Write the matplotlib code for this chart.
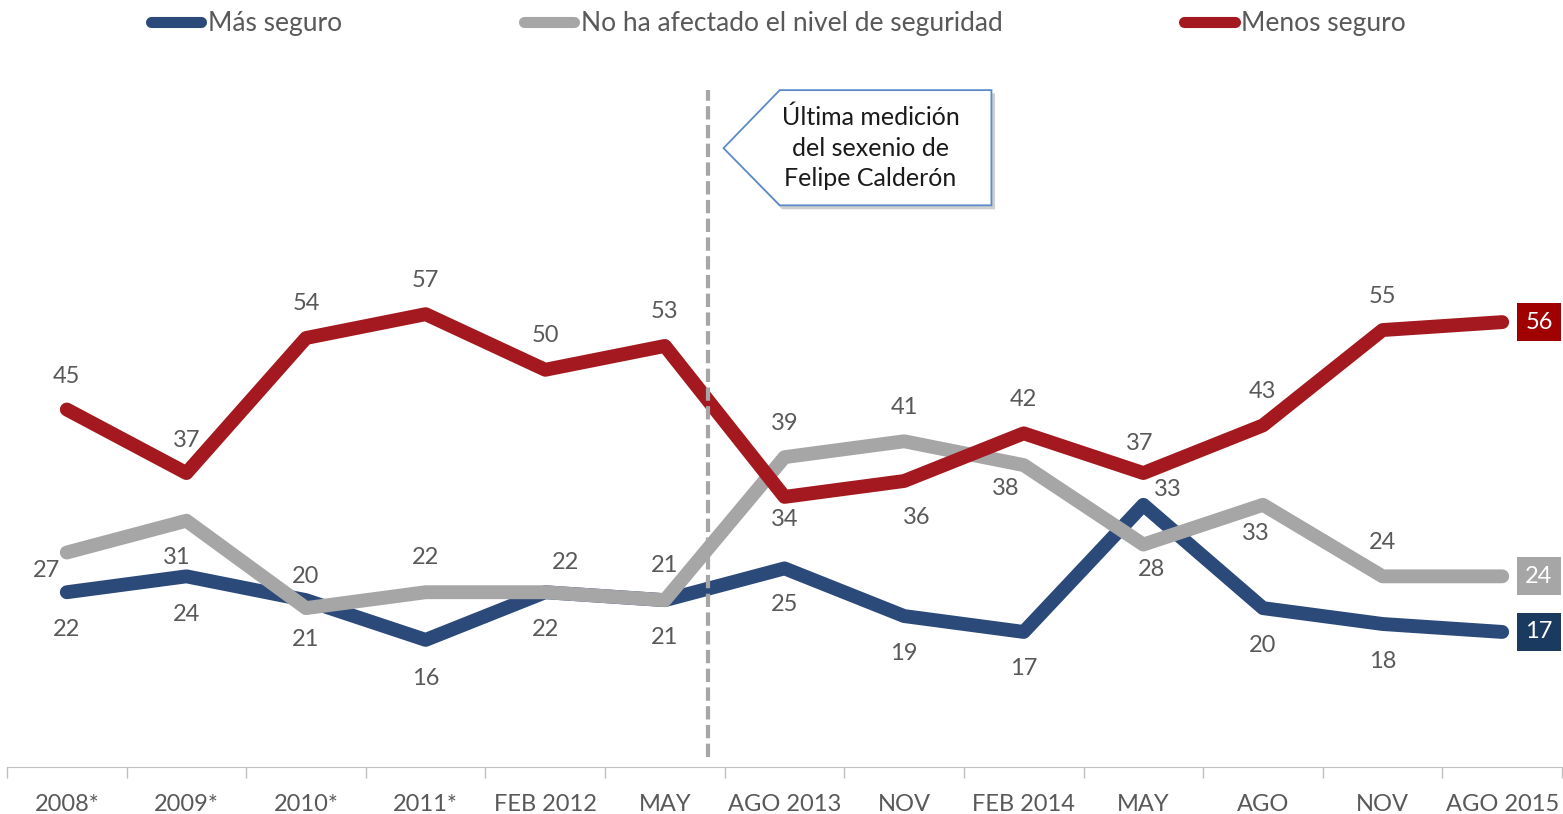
import matplotlib.pyplot as plt
from matplotlib.patches import Polygon

plt.rcParams["font.family"] = ["Lato", "DejaVu Sans"]

# Data
categories = ["2008*", "2009*", "2010*", "2011*", "FEB 2012", "MAY", "AGO 2013",
              "NOV", "FEB 2014", "MAY", "AGO", "NOV", "AGO 2015"]
mas_seguro = [22, 24, 21, 16, 22, 21, 25, 19, 17, 33, 20, 18, 17]
no_afectado = [27, 31, 20, 22, 22, 21, 39, 41, 38, 28, 33, 24, 24]
menos_seguro = [45, 37, 54, 57, 50, 53, 34, 36, 42, 37, 43, 55, 56]

BLUE, GRAY, RED = "#2C4A79", "#A6A6A6", "#A3191F"
BLUE_BOX, RED_BOX = "#1A3A5F", "#A00000"
TXT = "#595959"
FS = 17

fig = plt.figure(figsize=(15.63, 8.14), dpi=100)
ax = fig.add_axes([7 / 1563, 47 / 814, 1555 / 1563, 715 / 814])

x = range(len(categories))
series = [
    ("Más seguro", mas_seguro, BLUE, BLUE_BOX),
    ("No ha afectado el nivel de seguridad", no_afectado, GRAY, GRAY),
    ("Menos seguro", menos_seguro, RED, RED_BOX),
]
for name, vals, col, _ in series:
    ax.plot(x, vals, color=col, lw=10, solid_capstyle="round",
            solid_joinstyle="round", label=name)

# label offsets in pixels (dx, dy down-positive)
offs_blue = [(0, 37), (0, 38), (0, 39), (0, 39), (0, 37), (0, 37), (0, 36),
             (0, 37), (0, 37), (24, -15), (0, 37), (0, 37)]
offs_gray = [(-20, 18), (-10, 37), (0, -32), (0, -35), (20, -30), (0, -35),
             (0, -34), (0, -34), (-18, 23), (8, 25), (-7, 29), (0, -34)]
offs_red = [(0, -33), (0, -33), (0, -34), (0, -34), (0, -34), (0, -34),
            (0, 23), (13, 37), (0, -34), (-4, -30), (0, -34), (0, -34)]

for (name, vals, col, boxcol), offs in zip(series, [offs_blue, offs_gray, offs_red]):
    for i, (dx, dy) in enumerate(offs):
        ax.annotate(str(vals[i]), (i, vals[i]), xytext=(dx, -dy),
                    textcoords="offset pixels", ha="center", va="center",
                    fontsize=FS, color=TXT)
    last = len(vals) - 1
    ax.annotate(str(vals[last]), (last, vals[last]), xytext=(23, 0),
                textcoords="offset pixels", ha="left", va="center",
                fontsize=FS, color="white",
                bbox=dict(boxstyle="square,pad=0.36", fc=boxcol, ec="none"))

# dashed separator
ax.plot([5.36, 5.36], [1.3, 85.2], color=GRAY, lw=3, dashes=(3.2, 1.3))

# callout
callout = Polygon([(5.49, 77.9), (5.96, 85.2), (7.73, 85.2), (7.73, 70.7), (5.96, 70.7)],
                  closed=True, fc="white", ec="#5B8BC9", lw=1.3, zorder=5)
shadow = Polygon([(5.51, 77.5), (5.98, 84.8), (7.76, 84.8), (7.76, 70.2), (5.98, 70.2)],
                 closed=True, fc="#D0D0D0", ec="none", zorder=4)
ax.add_patch(shadow)
ax.add_patch(callout)
ax.text(6.72, 77.9, "Última medición\ndel sexenio de\nFelipe Calderón",
        ha="center", va="center", fontsize=18, color="#1A1A1A",
        linespacing=1.4, zorder=6)

ax.set_xlim(-0.5, 12.5)
ax.set_ylim(0, 90)
ax.set_xticks(list(x))
ax.set_xticklabels(categories, fontsize=FS, color=TXT)
ax.set_xticks([i - 0.5 for i in range(len(categories) + 1)], minor=True)
ax.tick_params(axis="x", which="major", length=0, pad=19.5)
ax.tick_params(axis="x", which="minor", length=8, color="#BFBFBF", width=1)
ax.set_yticks([])
for s in ["left", "right", "top"]:
    ax.spines[s].set_visible(False)
ax.spines["bottom"].set_color("#BFBFBF")

leg = fig.legend(loc="center", bbox_to_anchor=(0.498, 0.971), ncol=3, frameon=False,
                 fontsize=19, handlelength=1.9, handletextpad=0.25, columnspacing=6.9)
for t in leg.get_texts():
    t.set_color(TXT)
for h in leg.get_lines():
    h.set_linewidth(8)

fig.savefig("out.png", dpi=100)
